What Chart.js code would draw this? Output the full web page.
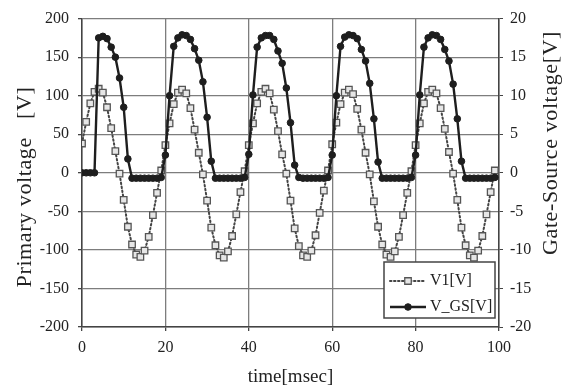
<!DOCTYPE html>
<html>
<head>
<meta charset="utf-8">
<script src="https://cdn.jsdelivr.net/npm/chart.js@4/dist/chart.umd.min.js"></script>
<style>
  html, body { margin: 0; padding: 0; background: #fff; }
  canvas { display: block; }
</style>
</head>
<body>
<canvas id="chart" width="564" height="387"></canvas>
<script>
// time in msec, 1 ms steps
const time = [];
for (let t = 0; t < 100; t++) time.push(t);

// primary voltage [V], left axis
const v1 = [
  38, 66, 90, 105, 109, 104, 85, 58, 28, -1, -35, -70, -93, -106, -109, -101, -83, -55, -26, 3,
  36, 64, 89, 104, 108, 103, 84, 56, 26, -2, -36, -71, -94, -107, -110, -102, -82, -54, -25, 2,
  36, 64, 90, 105, 109, 103, 82, 54, 24, -1, -36, -72, -95, -107, -109, -101, -81, -52, -23, 3,
  37, 65, 89, 104, 108, 102, 83, 56, 26, -2, -37, -70, -93, -106, -109, -102, -83, -55, -26, 2,
  36, 64, 90, 105, 108, 103, 84, 57, 27, -1, -35, -71, -94, -107, -110, -101, -82, -54, -25, 3
];

// gate-source voltage [V], right axis
const vgs = [
  0, 0, 0, 0, 17.5, 17.7, 17.4, 16.3, 15, 12.3, 8.5, 1.8, -0.7, -0.7, -0.7, -0.7, -0.7, -0.7, -0.7, -0.6,
  2.3, 10, 16.4, 17.5, 17.9, 17.8, 17.3, 16.1, 14.6, 11.8, 7.2, 1.5, -0.7, -0.7, -0.7, -0.7, -0.7, -0.7, -0.7, -0.6,
  2.4, 10.1, 16.3, 17.5, 17.8, 17.8, 17.3, 15.8, 14.2, 11, 6.5, 1, -0.6, -0.7, -0.7, -0.7, -0.7, -0.7, -0.7, -0.6,
  2.3, 10, 16.4, 17.6, 17.9, 17.8, 17.4, 16, 14.5, 11.6, 7, 1.4, -0.7, -0.7, -0.7, -0.7, -0.7, -0.7, -0.7, -0.6,
  2.3, 10.1, 16.3, 17.5, 17.9, 17.8, 17.3, 16, 14.5, 11.5, 7, 1.5, -0.7, -0.7, -0.7, -0.7, -0.7, -0.7, -0.7, -0.6
];

const xTicks = [0, 20, 40, 60, 80, 100];
const leftTitle = 'Primary voltage   [V]';
const rightTitle = 'Gate-Source voltage[V]';

const SERIF = '"Liberation Serif", "Times New Roman", serif';
const tickFont = { family: SERIF, size: 16 };
const INK = '#222';
const GRID = '#7d7d7d';

function pts(ys) {
  return time.map((t, i) => ({ x: t, y: ys[i] }));
}

// rotated axis titles, both reading bottom to top
const sideTitles = {
  id: 'sideTitles',
  afterDraw(chart) {
    const ctx = chart.ctx;
    ctx.save();
    ctx.font = '22px ' + SERIF;
    ctx.fillStyle = INK;
    ctx.textAlign = 'center';
    ctx.textBaseline = 'middle';
    ctx.letterSpacing = '0.6px';
    [[leftTitle, 25, 187], [rightTitle, 551, 143]].forEach(([txt, x, y]) => {
      ctx.save();
      ctx.translate(x, y);
      ctx.rotate(-Math.PI / 2);
      ctx.fillText(txt, 0, 0);
      ctx.restore();
    });
    ctx.letterSpacing = '0px';
    ctx.restore();
  }
};

// boxed legend in the lower right of the plot
const boxLegend = {
  id: 'boxLegend',
  afterDraw(chart) {
    const ctx = chart.ctx;
    const x0 = 384, y0 = 262, w = 111, h = 56;
    ctx.save();
    ctx.fillStyle = '#fff';
    ctx.fillRect(x0, y0, w, h);
    ctx.strokeStyle = '#444';
    ctx.lineWidth = 1.5;
    ctx.strokeRect(x0, y0, w, h);
    ctx.font = '16px ' + SERIF;
    ctx.textBaseline = 'middle';
    chart.data.datasets.forEach((ds, i) => {
      const y = y0 + 19 + i * 26;
      ctx.strokeStyle = ds.borderColor;
      ctx.lineWidth = ds.borderWidth;
      ctx.lineCap = ds.borderCapStyle || 'butt';
      ctx.setLineDash(ds.borderDash || []);
      ctx.beginPath();
      ctx.moveTo(x0 + 6, y);
      ctx.lineTo(x0 + 42, y);
      ctx.stroke();
      ctx.setLineDash([]);
      ctx.lineWidth = ds.pointBorderWidth;
      ctx.fillStyle = ds.pointBackgroundColor;
      ctx.strokeStyle = ds.pointBorderColor;
      ctx.beginPath();
      if (ds.pointStyle === 'rect') {
        const s = ds.pointRadius * Math.SQRT1_2;
        ctx.rect(x0 + 24 - s, y - s, 2 * s, 2 * s);
      } else {
        ctx.arc(x0 + 24, y, ds.pointRadius, 0, Math.PI * 2);
      }
      ctx.fill();
      ctx.stroke();
      ctx.fillStyle = INK;
      ctx.fillText(ds.label, x0 + 46, y);
    });
    ctx.restore();
  }
};

new Chart(document.getElementById('chart'), {
  type: 'line',
  data: {
    datasets: [
      {
        label: 'V1[V]',
        data: pts(v1),
        yAxisID: 'y',
        order: 1,
        borderColor: '#444',
        borderWidth: 2,
        borderDash: [1.5, 2.5],
        borderCapStyle: 'round',
        pointStyle: 'rect',
        pointRadius: 4.6,
        pointBorderWidth: 1.3,
        pointBorderColor: '#555',
        pointBackgroundColor: '#e6e6e6',
        tension: 0,
      },
      {
        label: 'V_GS[V]',
        data: pts(vgs),
        yAxisID: 'y2',
        order: 0,
        borderColor: '#1e1e1e',
        borderWidth: 2.4,
        pointStyle: 'circle',
        pointRadius: 3.3,
        pointBorderWidth: 1,
        pointBorderColor: '#1e1e1e',
        pointBackgroundColor: '#1e1e1e',
        tension: 0,
      }
    ]
  },
  options: {
    responsive: false,
    animation: false,
    layout: { padding: { top: 15, left: 0, right: 0, bottom: 0 } },
    plugins: { legend: { display: false }, tooltip: { enabled: false } },
    scales: {
      x: {
        type: 'linear',
        min: 0,
        max: 100,
        afterBuildTicks: s => { s.ticks = xTicks.map(v => ({ value: v })); },
        ticks: { font: tickFont, color: INK, padding: 7, maxRotation: 0 },
        grid: { color: GRID, lineWidth: 1.3, tickLength: 4, tickColor: '#444' },
        border: { color: '#444', width: 1.5 },
        title: {
          display: true,
          text: 'time[msec]',
          color: INK,
          font: { family: SERIF, size: 19, lineHeight: 1 },
          padding: { top: 0, bottom: 0 }
        },
        afterFit: s => { s.height = 60; }
      },
      y: {
        position: 'left',
        min: -200,
        max: 200,
        ticks: { stepSize: 50, font: tickFont, color: INK, padding: 9 },
        grid: { color: GRID, lineWidth: 1.3, tickLength: 4, tickColor: '#444' },
        border: { color: '#444', width: 1.5 },
        afterFit: s => { s.width = 82; }
      },
      y2: {
        position: 'right',
        min: -20,
        max: 20,
        ticks: { stepSize: 5, font: tickFont, color: INK, padding: 7 },
        grid: { drawOnChartArea: false, tickLength: 4, tickColor: '#444' },
        border: { color: '#444', width: 1.5 },
        afterFit: s => { s.width = 65; }
      }
    }
  },
  plugins: [sideTitles, boxLegend]
});
</script>
</body>
</html>
